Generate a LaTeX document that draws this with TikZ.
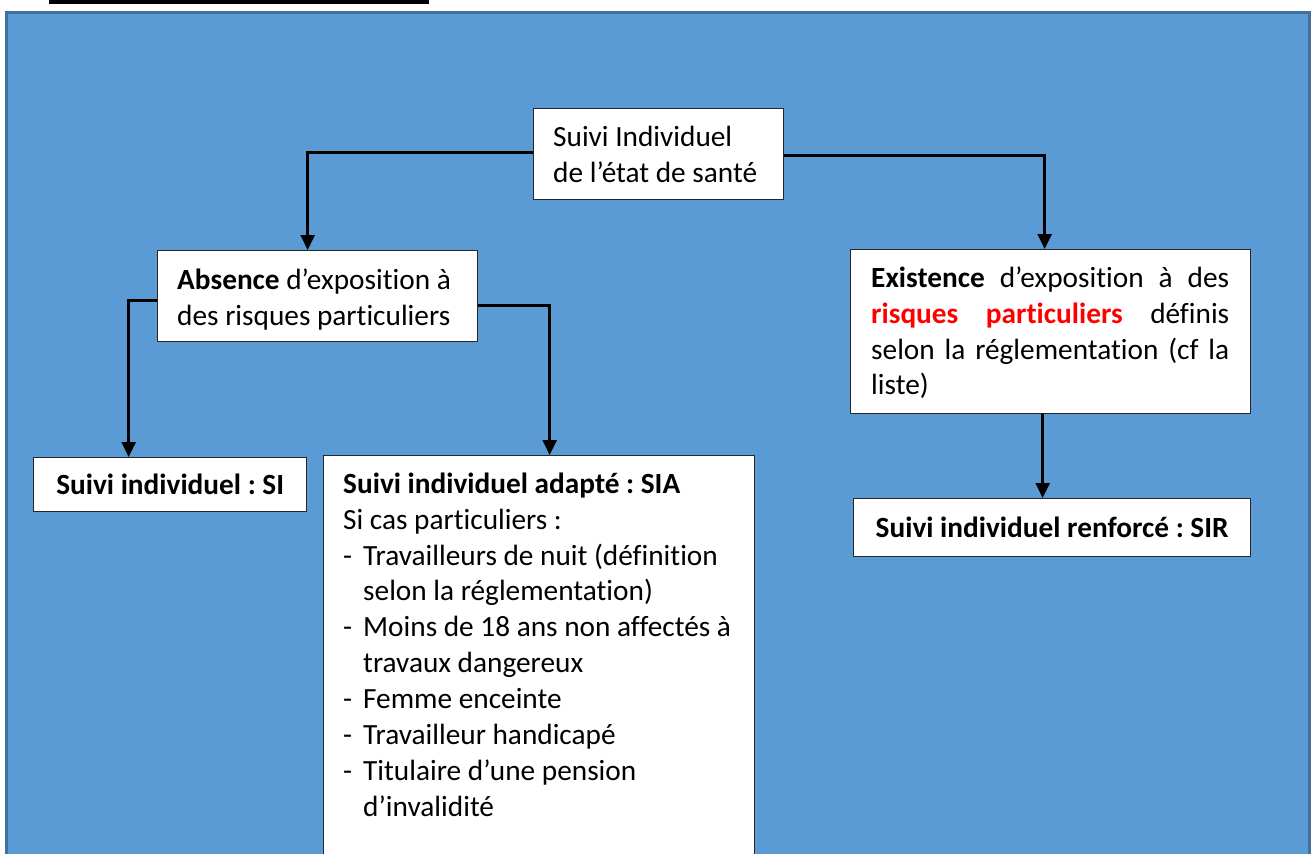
\documentclass[tikz,border=0pt]{standalone}
\usepackage{fontspec}
\setmainfont{Carlito}[Ligatures=NoCommon]
\usetikzlibrary{arrows.meta}
\definecolor{bgblue}{HTML}{5B9BD5}
\definecolor{bgborder}{HTML}{41719C}
\definecolor{boxline}{HTML}{262626}
\newcommand{\fs}{\fontsize{29.3}{35.9}\selectfont\frenchspacing}
\begin{document}
\begin{tikzpicture}[x=1pt,y=-1pt,
 box/.style={draw=boxline,line width=1.3pt,fill=white,rectangle,inner sep=0pt,anchor=north west},
 txt/.style={inner sep=0pt,anchor=north west,font=\fs,align=flush left},
 single/.style={font=\fs\bfseries,text height=20pt,text depth=0pt},
 conn/.style={draw=black,line width=2.5pt,-{Triangle[width=14pt,length=15pt]}},
]
\useasboundingbox (0,0) rectangle (1312,854);
\clip (0,0) rectangle (1312,854);
\fill[black] (49,0) rectangle (429,3.5);
\draw[bgborder,fill=bgblue,line width=3pt] (6.5,12.5) rectangle (1309,880);

% boxes
\node[box,minimum width=250pt,minimum height=91pt] (top) at (533,108) {};
\node[txt,text width=225pt] (toptxt) at (553,120.9) {\strut Suivi Individuel\\de l’état de santé};

\node[box,minimum width=320pt,minimum height=91pt] (abs) at (157,250) {};
\node[txt,text width=295pt] (abstxt) at (177,263.9) {\strut\textbf{Absence} d’exposition à\\des risques particuliers};

\node[box,minimum width=400pt,minimum height=164pt] (ex) at (850,249) {};
\node[txt,text width=358pt,align=justify] (extxt) at (871,261.9) {\strut\textbf{Existence} d’exposition à des\linebreak \textcolor{red}{\textbf{risques particuliers}} définis\linebreak selon la réglementation (cf la\linebreak liste)};

\node[box,single,minimum width=273pt,minimum height=54pt] (si) at (33,457) {Suivi individuel : SI};

\node[box,single,minimum width=397pt,minimum height=58pt] (sir) at (853,498) {Suivi individuel renforcé : SIR};

\node[box,minimum width=431pt,minimum height=440pt] (sia) at (323,455) {};
\node[txt,text width=420pt] (siatxt) at (343,467.9) {\strut\textbf{Suivi individuel adapté : SIA}\\
Si cas particuliers :\\
\makebox[20pt][l]{-}Travailleurs de nuit (définition\\
\hspace*{20pt}selon la réglementation)\\
\makebox[20pt][l]{-}Moins de 18 ans non affectés à\\
\hspace*{20pt}travaux dangereux\\
\makebox[20pt][l]{-}Femme enceinte\\
\makebox[20pt][l]{-}Travailleur handicapé\\
\makebox[20pt][l]{-}Titulaire d’une pension\\
\hspace*{20pt}d’invalidité};

% connectors
\draw[conn] ([yshift=1.5pt]top.west) -| ([xshift=-10pt]abs.north);
\draw[conn] ([yshift=-1.5pt]top.east) -| ([xshift=-6pt]ex.north);
\draw[conn] ([yshift=-4.5pt]abs.west) -| ([xshift=-41.5pt]si.north);
\draw[conn] ([yshift=-9.5pt]abs.east) -| ([xshift=10.5pt]sia.north);
\draw[conn] ([xshift=-8pt]ex.south) -- ([xshift=-9.5pt]sir.north);
\end{tikzpicture}
\end{document}
